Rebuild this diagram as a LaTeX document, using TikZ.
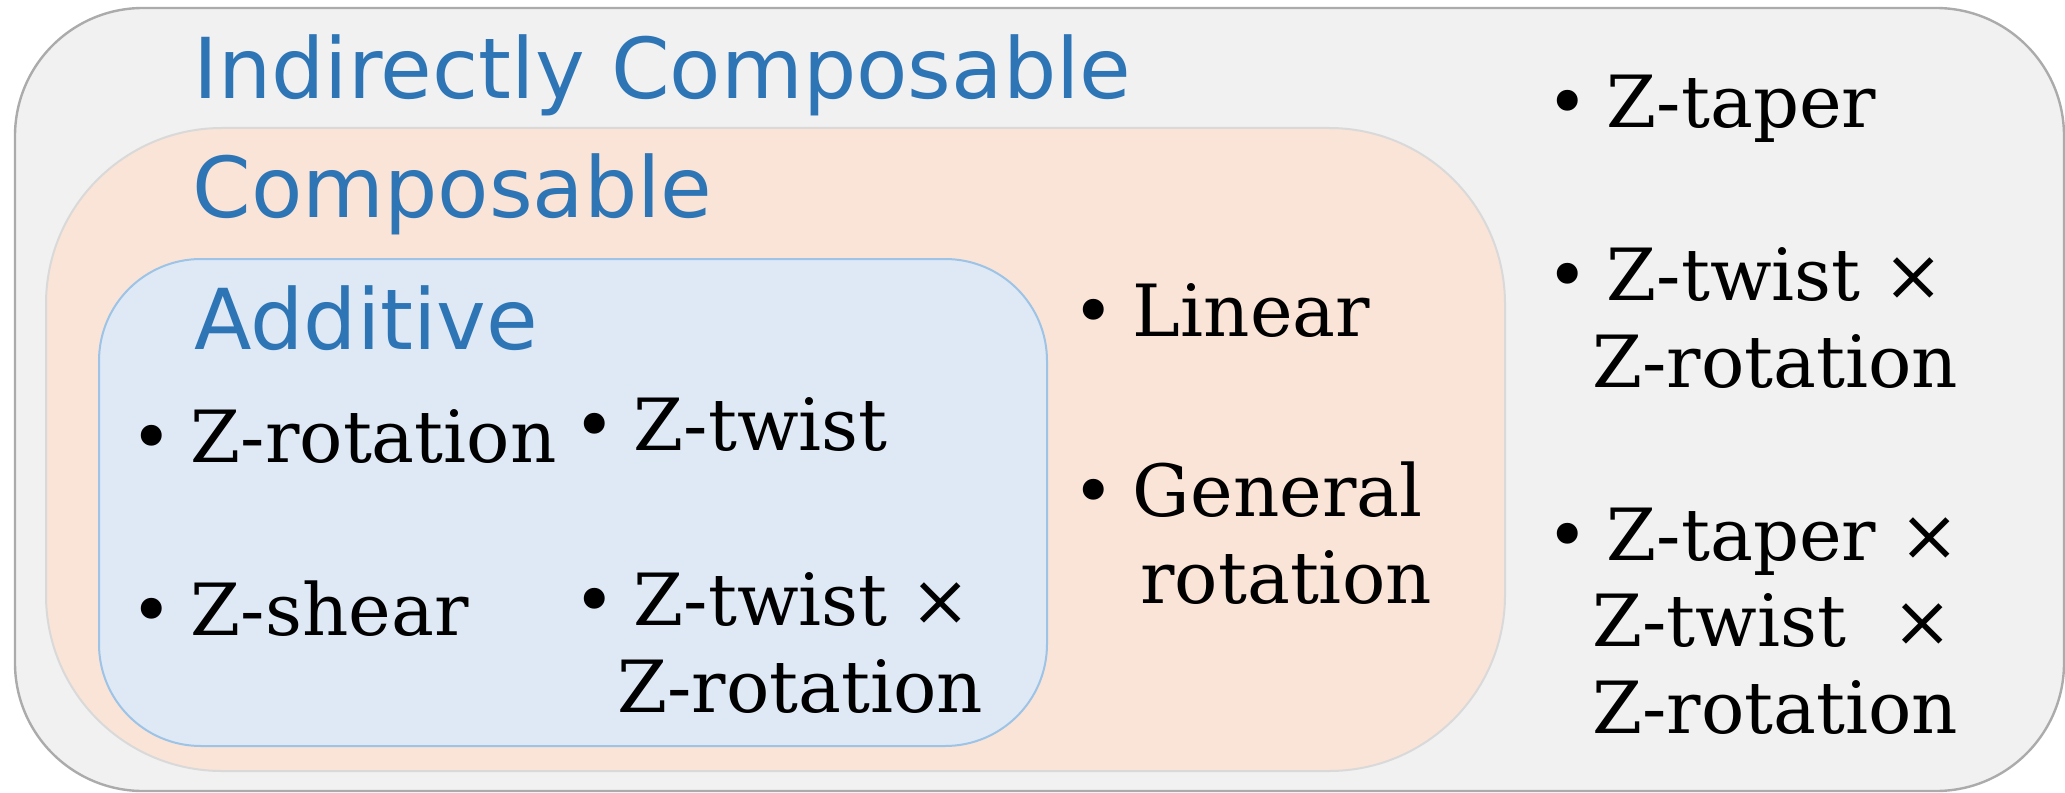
\documentclass[tikz,border=0pt]{standalone}
\usepackage{fontspec}
\setmainfont{DejaVu Serif}
\newfontfamily\headfont{DejaVu Sans}
\newcommand{\bul}{•\hspace{9pt}}

\begin{document}
\begin{tikzpicture}[x=0.5pt,y=-0.5pt,line join=round,
  head/.style={anchor=base west,inner sep=0pt,text=headblue,
    font=\headfont\fontsize{42}{50}\selectfont},
  item/.style={anchor=base west,inner sep=0pt,align=left,
    font=\fontsize{36}{43.25}\selectfont}]
  \definecolor{outerbg}{HTML}{F1F1F1}
  \definecolor{outerln}{HTML}{ABABAB}
  \definecolor{compbg}{HTML}{FAE4D7}
  \definecolor{compln}{HTML}{D9D9D9}
  \definecolor{addbg}{HTML}{DEE9F5}
  \definecolor{addln}{HTML}{9DC3E6}
  \definecolor{headblue}{HTML}{2E75B6}

  \useasboundingbox (0,0) rectangle (2065,792);

  % nested sets
  \filldraw[fill=outerbg,draw=outerln,line width=1.2pt,rounded corners=64pt]
    (15,8) rectangle (2064,791);
  \filldraw[fill=compbg,draw=compln,line width=1pt,rounded corners=88pt]
    (46,128) rectangle (1505,771);
  \filldraw[fill=addbg,draw=addln,line width=1pt,rounded corners=51pt]
    (99,259) rectangle (1047,746);

  % set titles
  \node[head] (tind) at (193,98) {Indirectly Composable};
  \node[head] (tcomp) at (192,217) {Composable};
  \node[head] (tadd) at (194,349) {Additive};

  % additive members (multi-line nodes sit on their last baseline)
  \node[item] (zrot) at (130,462) {\bul Z-rotation};
  \node[item] (ztw) at (573,450) {\bul Z-twist};
  \node[item] (zsh) at (130,635) {\bul Z-shear};
  \node[item] (ztwrot) at (573,712) {\bul Z-twist ×\\\hspace*{22pt}Z-rotation};

  % composable members
  \node[item] (lin) at (1072,336) {\bul Linear};
  \node[item] (genrot) at (1072,603) {\bul General\\\hspace*{34pt}rotation};

  % indirectly composable members
  \node[item] (ztap) at (1546,127) {\bul Z-taper};
  \node[item] (ztwrot2) at (1546,387) {\bul Z-twist ×\\\hspace*{23pt}Z-rotation};
  \node[item] (ztaptwrot) at (1546,733)
    {\bul Z-taper ×\\\hspace*{23pt}Z-twist\ \ ×\\\hspace*{23pt}Z-rotation};
\end{tikzpicture}
\end{document}
